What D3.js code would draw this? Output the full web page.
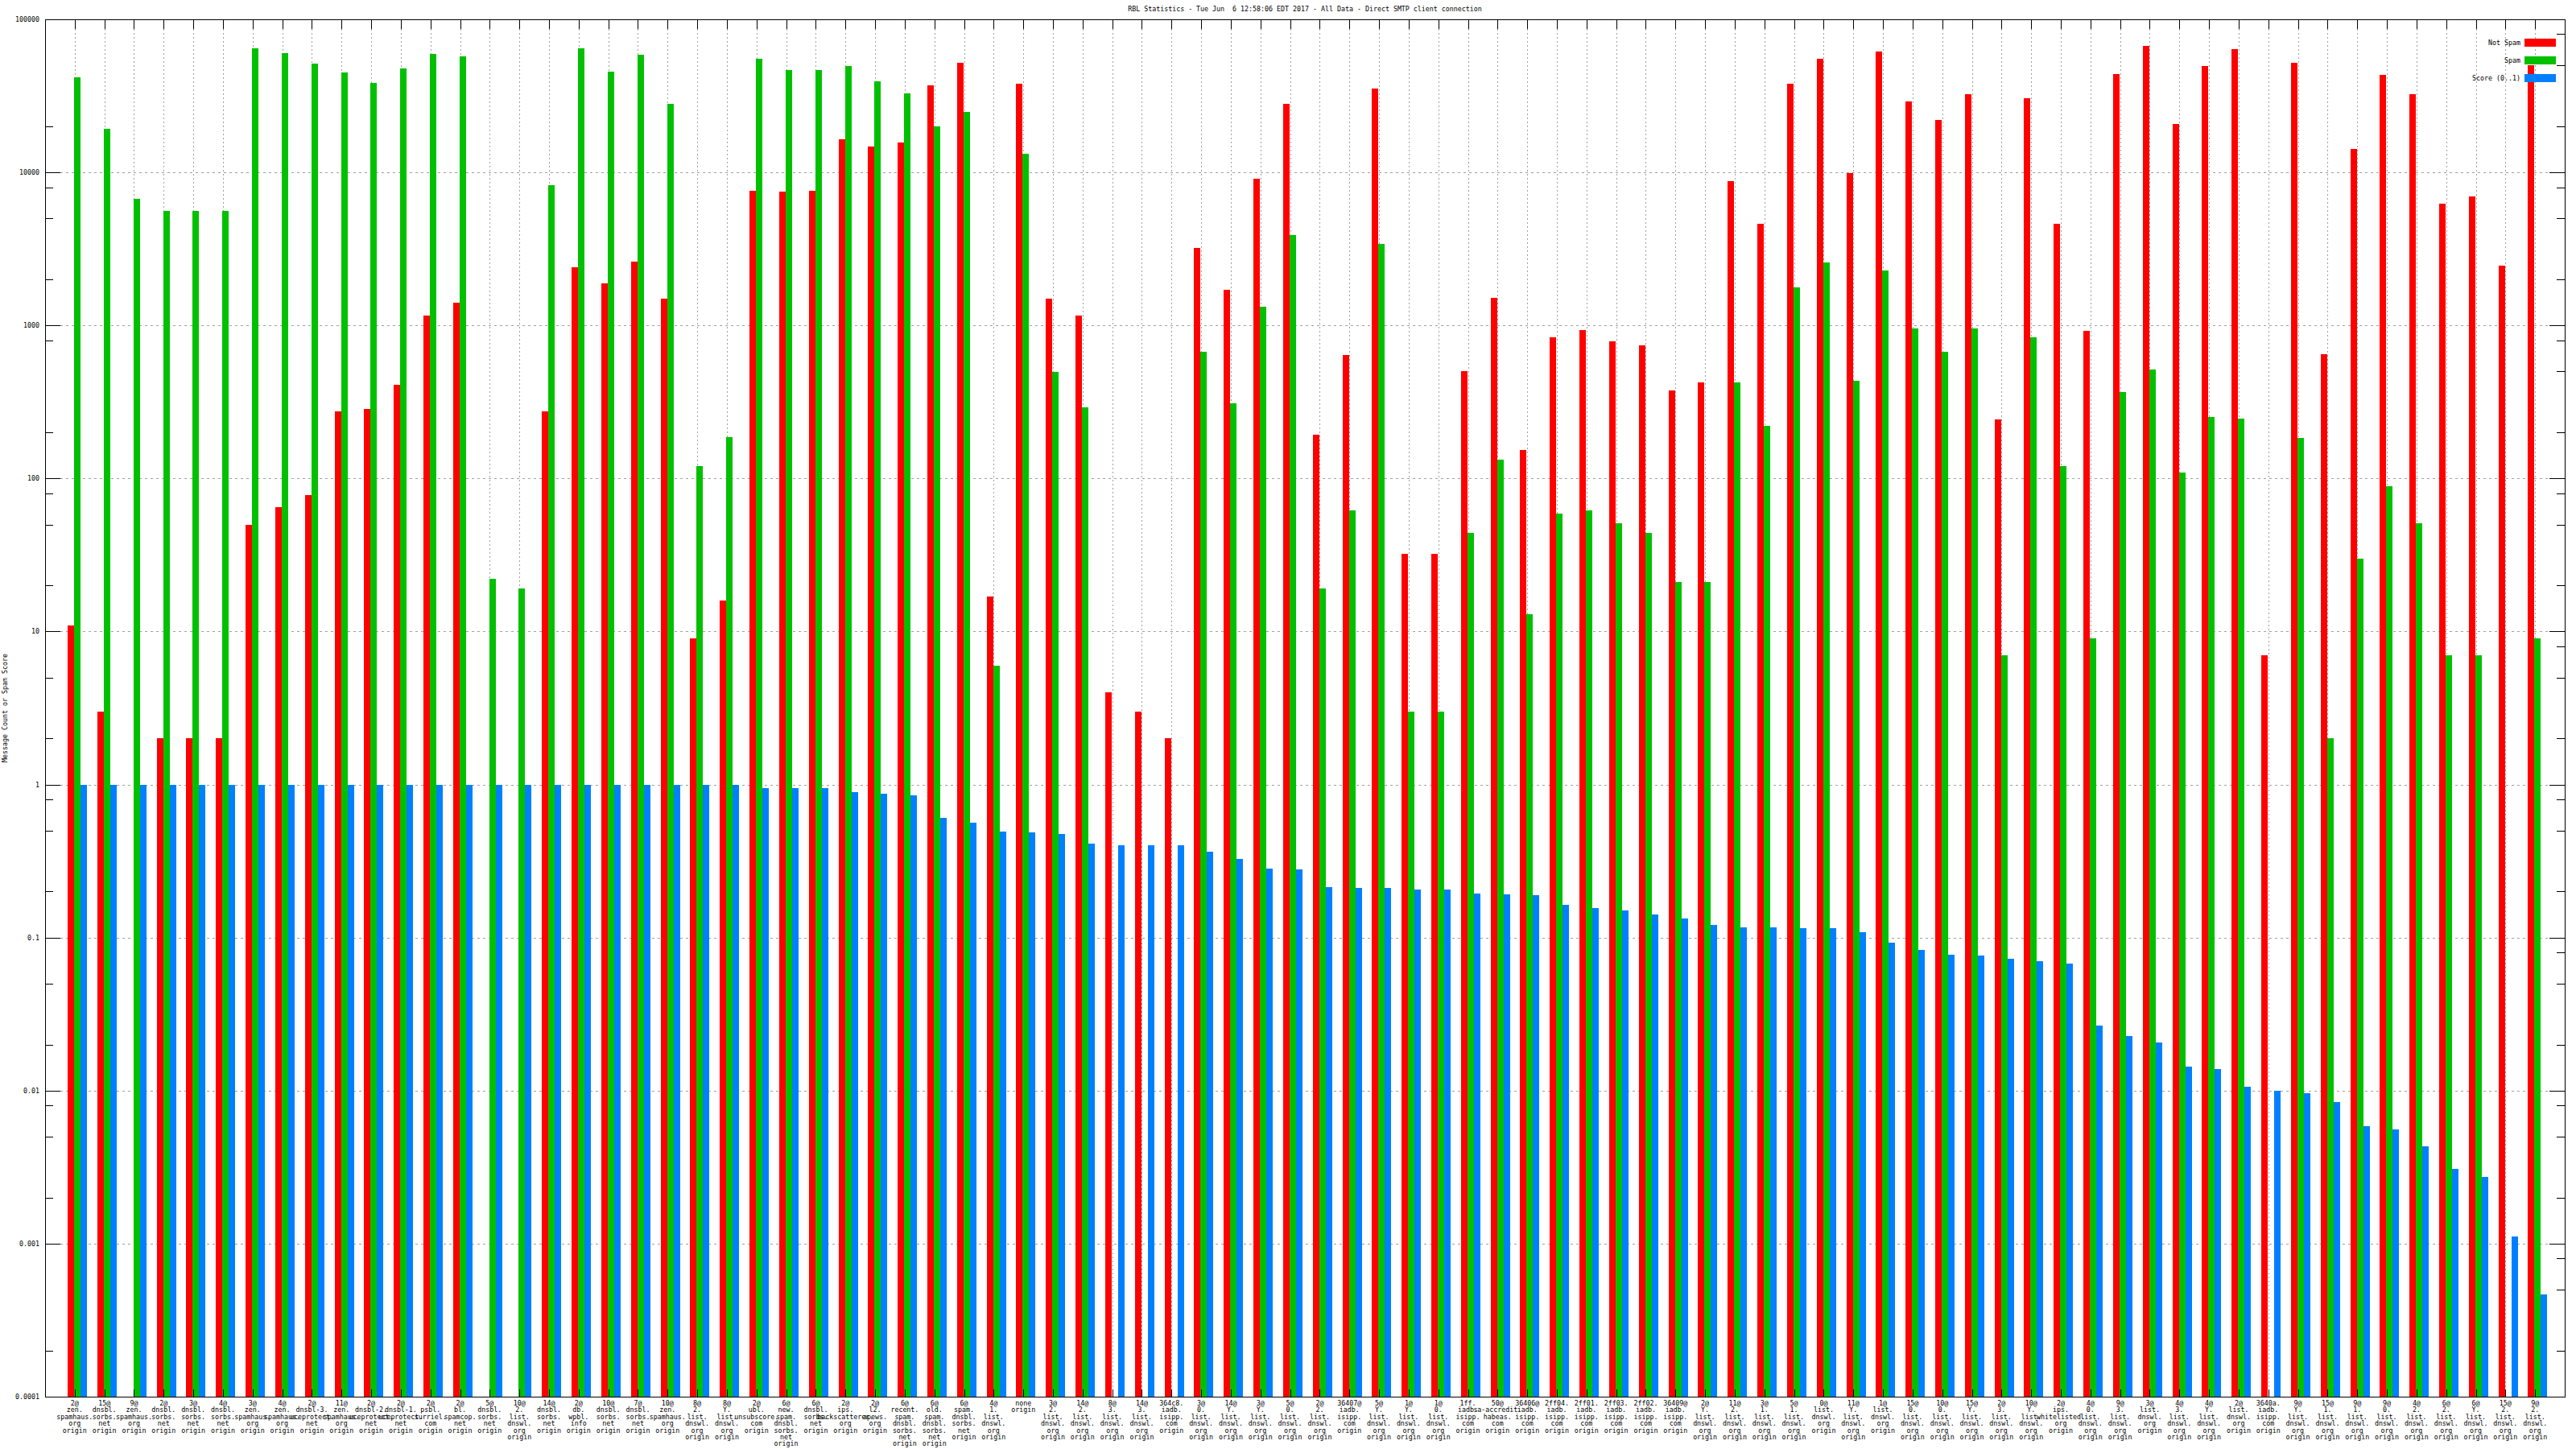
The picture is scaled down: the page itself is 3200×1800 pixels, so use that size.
<!DOCTYPE html>
<html><head><meta charset="utf-8">
<script src="https://cdn.jsdelivr.net/npm/d3@7"></script>
<style>body{margin:0;background:#fff}svg{display:block}</style>
</head><body>
<script>
const title = "RBL Statistics - Tue Jun  6 12:58:06 EDT 2017 - All Data - Direct SMTP client connection";
const yTitle = "Message Count or Spam Score";
const categories = [
"2@ zen. spamhaus. org origin","15@ dnsbl. sorbs. net origin","9@ zen. spamhaus. org origin","2@ dnsbl. sorbs. net origin",
"3@ dnsbl. sorbs. net origin","4@ dnsbl. sorbs. net origin","3@ zen. spamhaus. org origin","4@ zen. spamhaus. org origin",
"2@ dnsbl-3. uceprotect. net origin","11@ zen. spamhaus. org origin","2@ dnsbl-2. uceprotect. net origin","2@ dnsbl-1. uceprotect. net origin",
"2@ psbl. surriel. com origin","2@ bl. spamcop. net origin","5@ dnsbl. sorbs. net origin","10@ 2. list. dnswl. org origin",
"14@ dnsbl. sorbs. net origin","2@ db. wpbl. info origin","10@ dnsbl. sorbs. net origin","7@ dnsbl. sorbs. net origin",
"10@ zen. spamhaus. org origin","8@ 2. list. dnswl. org origin","8@ Y. list. dnswl. org origin","2@ ubl. unsubscore. com origin",
"6@ new. spam. dnsbl. sorbs. net origin","6@ dnsbl. sorbs. net origin","2@ ips. backscatterer. org origin","2@ l2. apews. org origin",
"6@ recent. spam. dnsbl. sorbs. net origin","6@ old. spam. dnsbl. sorbs. net origin","6@ spam. dnsbl. sorbs. net origin","4@ 1. list. dnswl. org origin",
"none origin","3@ 2. list. dnswl. org origin","14@ 2. list. dnswl. org origin","8@ 3. list. dnswl. org origin",
"14@ 3. list. dnswl. org origin","364c8. iadb. isipp. com origin","3@ 0. list. dnswl. org origin","14@ Y. list. dnswl. org origin",
"3@ Y. list. dnswl. org origin","5@ 0. list. dnswl. org origin","2@ 2. list. dnswl. org origin","36407@ iadb. isipp. com origin",
"5@ Y. list. dnswl. org origin","1@ Y. list. dnswl. org origin","1@ 0. list. dnswl. org origin","1ff. iadb. isipp. com origin",
"50@ sa-accredit. habeas. com origin","36406@ iadb. isipp. com origin","2ff04. iadb. isipp. com origin","2ff01. iadb. isipp. com origin",
"2ff03. iadb. isipp. com origin","2ff02. iadb. isipp. com origin","36409@ iadb. isipp. com origin","2@ Y. list. dnswl. org origin",
"11@ 2. list. dnswl. org origin","3@ 1. list. dnswl. org origin","5@ 1. list. dnswl. org origin","0@ list. dnswl. org origin",
"11@ Y. list. dnswl. org origin","1@ list. dnswl. org origin","15@ 0. list. dnswl. org origin","10@ 0. list. dnswl. org origin",
"15@ Y. list. dnswl. org origin","2@ 3. list. dnswl. org origin","10@ Y. list. dnswl. org origin","2@ ips. whitelisted. org origin",
"4@ 0. list. dnswl. org origin","9@ 3. list. dnswl. org origin","3@ list. dnswl. org origin","4@ 3. list. dnswl. org origin",
"4@ Y. list. dnswl. org origin","2@ list. dnswl. org origin","3640a. iadb. isipp. com origin","9@ Y. list. dnswl. org origin",
"15@ 1. list. dnswl. org origin","9@ 1. list. dnswl. org origin","9@ 0. list. dnswl. org origin","4@ 2. list. dnswl. org origin",
"6@ 2. list. dnswl. org origin","6@ Y. list. dnswl. org origin","15@ 2. list. dnswl. org origin","9@ 2. list. dnswl. org origin"
];
const notSpam = [11,3,null,2,2,2,50,65,78,273,284,407,1164,1402,null,null,273,2386,1878,2618,1499,9,16,7580,7480,7580,16400,14700,15700,36900,52200,17,37900,1500,1164,4,3,2,3200,1710,9140,27900,193,640,35500,32,32,504,1518,154,834,928,791,741,376,424,8770,4640,37900,55000,9890,61900,29000,22000,32300,242,30600,4640,916,43900,67100,20600,49400,63600,7,52200,648,14200,43300,32300,6210,7000,2450,50000];
const spam = [41600,19200,6730,5590,5590,5590,64500,60300,51500,45000,38400,47500,59500,57200,22,19,8220,64500,45600,58800,27900,120,186,55000,46900,46900,49400,39400,32700,20000,24800,6,13200,497,292,null,null,null,675,308,1330,3900,19,62,3410,3,3,44,133,13,59,62,51,44,21,21,424,221,1780,2580,435,2290,953,675,953,7,834,121,9,366,517,109,252,246,null,183,2,30,89,51,7,7,null,9];
const score = [1,1,1,1,1,1,1,1,1,1,1,1,1,1,1,1,1,1,1,1,1,1,1,0.95,0.95,0.95,0.887,0.875,0.853,0.604,0.565,0.494,0.488,0.475,0.41,0.40,0.40,0.40,0.364,0.327,0.283,0.279,0.214,0.211,0.211,0.206,0.206,0.195,0.192,0.19,0.164,0.156,0.151,0.142,0.134,0.121,0.117,0.116,0.115,0.115,0.109,0.0927,0.0832,0.0769,0.0759,0.0729,0.070,0.0673,0.0265,0.0226,0.0206,0.0144,0.0138,0.0106,0.01,0.00966,0.00846,0.00583,0.0056,0.00435,0.00308,0.00273,0.00112,0.000466];
const seriesNames = ["Not Spam","Spam","Score (0..1)"];
const seriesColors = ["#ff0000","#00c000","#0080ff"];
const yMajorTicks = [100000,10000,1000,100,10,1,0.1,0.01,0.001,0.0001];
const yMajorLabels = ["100000","10000","1000","100","10","1","0.1","0.01","0.001","0.0001"];
const yMinorLeft = [20000,8000,5000,2000,800,200,80,50,20,5,2,0.8,0.5,0.2,0.05,0.02,0.008,0.005,0.002,0.0002];
const yMinorRight = [80000,50000,20000,8000,5000,2000,800,500,200,80,50,20,8,5,2,0.8,0.5,0.2,0.08,0.05,0.02,0.008,0.005,0.002,0.0008,0.0005,0.0002];

const W = 3200, H = 1800;
const L = 56, R = 3186, T = 24, B = 1735;
const FONT = "'DejaVu Sans Mono', monospace";
const FS = 8.3;

const svg = d3.select("body").append("svg").attr("width", W).attr("height", H)
  .style("font-family", FONT).style("font-size", FS + "px");

const x = d3.scaleLinear().domain([-1, categories.length]).range([L, R]);
const y = d3.scaleLog().domain([0.0001, 100000]).range([B, T]);
const bw = 0.217;

// grid
const grid = svg.append("g").attr("shape-rendering", "crispEdges");
grid.selectAll("line.h").data(yMajorTicks.slice(1, -1)).join("line")
  .attr("x1", L + 19).attr("x2", R - 19).attr("y1", d => Math.round(y(d)) + 0.5).attr("y2", d => Math.round(y(d)) + 0.5)
  .attr("stroke", "#a0a0a0").attr("stroke-dasharray", "3,4");
grid.selectAll("line.v").data(categories).join("line")
  .attr("x1", (d, i) => Math.round(x(i)) + 0.5).attr("x2", (d, i) => Math.round(x(i)) + 0.5)
  .attr("y1", T + 12).attr("y2", B - 9)
  .attr("stroke", "#a0a0a0").attr("stroke-dasharray", "2,3");

// bars
const series = [notSpam, spam, score];
const bars = svg.append("g").attr("shape-rendering", "crispEdges");
series.forEach((vals, j) => {
  bars.append("g").selectAll("rect").data(vals.map((v, i) => ({v, i})).filter(d => d.v != null)).join("rect")
    .attr("x", d => Math.round(x(d.i - 0.236 + j * bw)))
    .attr("width", d => Math.round(x(d.i - 0.236 + (j + 1) * bw)) - Math.round(x(d.i - 0.236 + j * bw)))
    .attr("y", d => Math.round(y(d.v)))
    .attr("height", d => B - Math.round(y(d.v)))
    .attr("fill", seriesColors[j]);
});

// border & ticks
const ax = svg.append("g").attr("shape-rendering", "crispEdges").attr("stroke", "#000");
ax.append("rect").attr("x", L + 0.5).attr("y", T + 0.5).attr("width", R - L).attr("height", B - T)
  .attr("fill", "none").attr("stroke-width", 1);
yMajorTicks.forEach(v => {
  const yy = Math.round(y(v)) + 0.5;
  ax.append("line").attr("x1", L).attr("x2", L + 19).attr("y1", yy).attr("y2", yy);
  ax.append("line").attr("x1", R).attr("x2", R - 19).attr("y1", yy).attr("y2", yy);
});
yMinorLeft.forEach(v => {
  const yy = Math.round(y(v)) + 0.5;
  ax.append("line").attr("x1", L).attr("x2", L + 10).attr("y1", yy).attr("y2", yy);
});
yMinorRight.forEach(v => {
  const yy = Math.round(y(v)) + 0.5;
  ax.append("line").attr("x1", R).attr("x2", R - 10).attr("y1", yy).attr("y2", yy);
});
categories.forEach((c, i) => {
  const xx = Math.round(x(i)) + 0.5;
  ax.append("line").attr("x1", xx).attr("x2", xx).attr("y1", T).attr("y2", T + 12);
  ax.append("line").attr("x1", xx).attr("x2", xx).attr("y1", B).attr("y2", B - 9);
});

// y tick labels
svg.append("g").selectAll("text").data(yMajorTicks).join("text")
  .attr("x", 49).attr("y", d => y(d) + 3).attr("text-anchor", "end")
  .text((d, i) => yMajorLabels[i]);

// x labels
const xl = svg.append("g").attr("text-anchor", "middle");
categories.forEach((c, i) => {
  const t = xl.append("text").attr("x", x(i)).attr("y", 1746);
  c.split(" ").forEach((part, k) => {
    t.append("tspan").attr("x", x(i)).attr("y", 1746 + k * 8.4).text(part);
  });
});

// title
svg.append("text").attr("x", (L + R) / 2).attr("y", 14).attr("text-anchor", "middle")
  .style("white-space", "pre").attr("xml:space", "preserve").text(title);

// y title
svg.append("text").attr("transform", `translate(9,${(T + B) / 2}) rotate(-90)`)
  .attr("text-anchor", "middle").text(yTitle);

// legend
const lg = svg.append("g");
seriesNames.forEach((n, j) => {
  const cy = 53 + j * 22;
  lg.append("text").attr("x", 3131).attr("y", cy + 3).attr("text-anchor", "end").text(n);
  lg.append("rect").attr("x", 3136).attr("y", cy - 5).attr("width", 39).attr("height", 10)
    .attr("fill", seriesColors[j]).attr("shape-rendering", "crispEdges");
});
</script>
</body></html>
